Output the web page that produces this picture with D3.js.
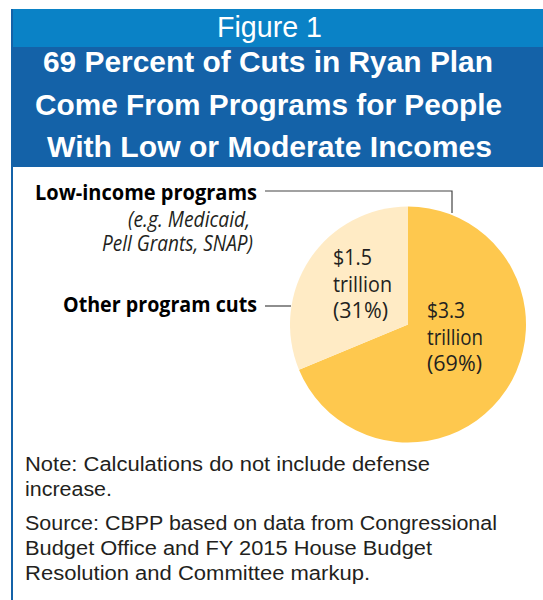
<!DOCTYPE html>
<html><head><meta charset="utf-8">
<script src="https://cdn.jsdelivr.net/npm/d3@7"></script>
<style>
html,body{margin:0;padding:0;background:#fff;}
svg{display:block;}
</style></head>
<body>
<script>
// ---- data ----
const categories = ["Low-income programs", "Other program cuts"];
const values = [3.3, 1.5];
const shares = [69, 31];
const valueLabels = ["$3.3", "$1.5"];
const legendNotes = ["(e.g. Medicaid,", "Pell Grants, SNAP)"];
const titleLines = ["69 Percent of Cuts in Ryan Plan", "Come From Programs for People", "With Low or Moderate Incomes"];
const noteLines = ["Note: Calculations do not include defense", "increase."];
const sourceLines = ["Source: CBPP based on data from Congressional", "Budget Office and FY 2015 House Budget", "Resolution and Committee markup."];
const colors = ["#FEC84E", "#FFEBC5"];

const W = 543, H = 600;
const svg = d3.select("body").append("svg").attr("width", W).attr("height", H);

const cond = "'Open Sans','Noto Sans',sans-serif";
const plain = "'Liberation Sans','Arial',sans-serif";

// fit text to a target width (emulates the condensed / wide original faces)
function fit(sel, w) {
  sel.attr("textLength", w).attr("lengthAdjust", "spacingAndGlyphs");
  return sel;
}

// header
svg.append("rect").attr("x", 11).attr("y", 9).attr("width", W - 11).attr("height", 38).attr("fill", "#0A82C6");
svg.append("rect").attr("x", 11).attr("y", 47).attr("width", W - 11).attr("height", 120).attr("fill", "#1462A8");
svg.append("rect").attr("x", 11).attr("y", 9).attr("width", 2).attr("height", H - 9).attr("fill", "#1462A8");

fit(svg.append("text").attr("x", 217).attr("y", 37)
  .attr("fill", "#fff").style("font-family", plain).style("font-size", "29px").text("Figure 1"), 105);
const titleX = [43, 35, 47], titleW = [450, 467, 445];
titleLines.forEach((d, i) => {
  fit(svg.append("text").attr("x", titleX[i]).attr("y", 72 + i * 42.5)
    .attr("fill", "#fff").style("font-family", plain).style("font-weight", "bold").style("font-size", "30px")
    .text(d), titleW[i]);
});

// pie
const cx = 408, cy = 324.5, r = 118;
const pie = d3.pie().sort(null).value(d => d);
const arcs = pie(values);
const arc = d3.arc().innerRadius(0).outerRadius(r);
const g = svg.append("g").attr("transform", `translate(${cx},${cy})`);
g.selectAll("path").data(arcs).join("path").attr("d", arc).attr("fill", (d, i) => colors[i]);

// slice labels
const labelPos = [[19, -6.5], [-75, -59.5]];
const labelW = [[38, 56, 55], [39, 59, 55]];
arcs.forEach((a, i) => {
  [valueLabels[i], "trillion", `(${shares[i]}%)`].forEach((s, k) => {
    fit(g.append("text").attr("x", labelPos[i][0]).attr("y", labelPos[i][1] + k * 26.5)
      .style("font-family", cond).style("font-size", "22px").attr("fill", "#231f20").text(s), labelW[i][k]);
  });
});

// category labels
fit(svg.append("text").attr("x", 35).attr("y", 200)
  .style("font-family", cond).style("font-weight", "bold").style("font-size", "22px").attr("fill", "#000")
  .text(categories[0]), 222);
const exX = [128, 102], exW = [122, 151];
legendNotes.forEach((d, i) => {
  fit(svg.append("text").attr("x", exX[i]).attr("y", 227 + i * 24)
    .style("font-family", cond).style("font-style", "italic").style("font-size", "21px").attr("fill", "#231f20")
    .text(d), exW[i]);
});
fit(svg.append("text").attr("x", 63).attr("y", 312)
  .style("font-family", cond).style("font-weight", "bold").style("font-size", "22px").attr("fill", "#000")
  .text(categories[1]), 194);

// leader lines
svg.append("polyline")
  .attr("points", `265,191 452,191 452,213`)
  .attr("fill", "none").attr("stroke", "#444").attr("stroke-width", 1.2);
svg.append("line").attr("x1", 265).attr("y1", 306).attr("x2", 291).attr("y2", 306)
  .attr("stroke", "#444").attr("stroke-width", 1.2);

// notes
const noteW = [405, 87];
noteLines.forEach((d, i) => {
  fit(svg.append("text").attr("x", 25).attr("y", 471 + i * 25)
    .style("font-family", plain).style("font-size", "19.5px").attr("fill", "#231f20").text(d), noteW[i]);
});
const srcW = [472, 407, 345];
sourceLines.forEach((d, i) => {
  fit(svg.append("text").attr("x", 25).attr("y", 530 + i * 25)
    .style("font-family", plain).style("font-size", "19.5px").attr("fill", "#231f20").text(d), srcW[i]);
});
</script>
</body></html>
